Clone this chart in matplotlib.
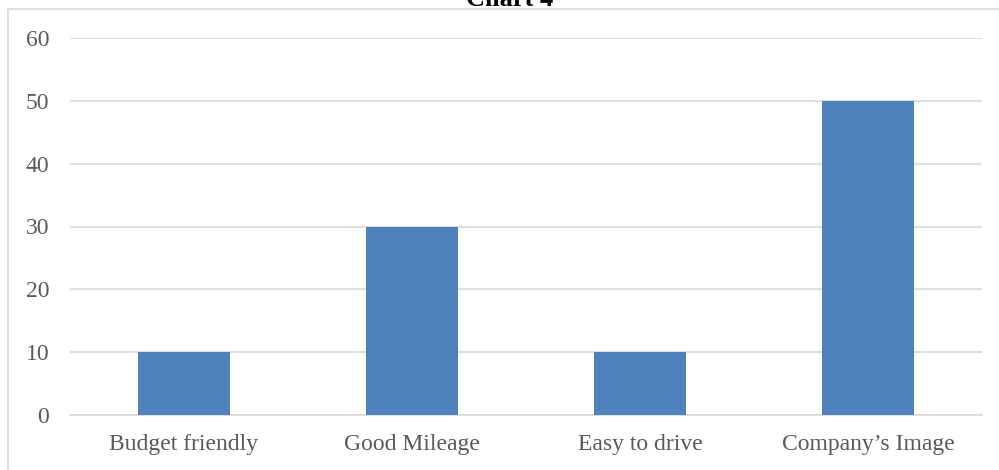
import matplotlib
matplotlib.use("Agg")
import matplotlib.pyplot as plt
from matplotlib.patches import Rectangle

categories = ["Budget friendly", "Good Mileage", "Easy to drive", "Company\u2019s Image"]
values = [10, 30, 10, 50]
yticks = [0, 10, 20, 30, 40, 50, 60]

plt.rcParams['font.family'] = ['Liberation Serif', 'DejaVu Serif']

W, H = 999, 470
fig = plt.figure(figsize=(W/100, H/100), dpi=100)
ax = fig.add_axes([70/W, 1 - 415/H, (982-70)/W, (415-38)/H])

ax.bar(range(len(categories)), values, width=0.4, color="#4f81bd", zorder=3)
ax.set_xlim(-0.5, len(categories) - 0.5)
ax.set_ylim(0, 60)
ax.set_yticks(yticks)
ax.yaxis.grid(True, color="#d9d9d9", linewidth=1.2, zorder=0)
ax.set_xticks(range(len(categories)))
ax.set_xticklabels(categories)
for s in ["top", "right", "left"]:
    ax.spines[s].set_visible(False)
ax.spines["bottom"].set_color("#d9d9d9")
ax.spines["bottom"].set_linewidth(1.2)
ax.tick_params(axis="both", length=0, labelsize=17, colors="#595959")
ax.tick_params(axis="y", pad=15)
ax.tick_params(axis="x", pad=14)

# chart border
fig.patches.append(Rectangle((8/W, -0.1), 1.2, 1 - 9/H + 0.1, transform=fig.transFigure,
                             fill=False, edgecolor="#d9d9d9", linewidth=1.2))

fig.text(510/W, 1 - 6/H, "Chart 4", ha="center", va="baseline", fontsize=19,
         fontweight="bold", color="black")

fig.savefig("out.png", dpi=100)
